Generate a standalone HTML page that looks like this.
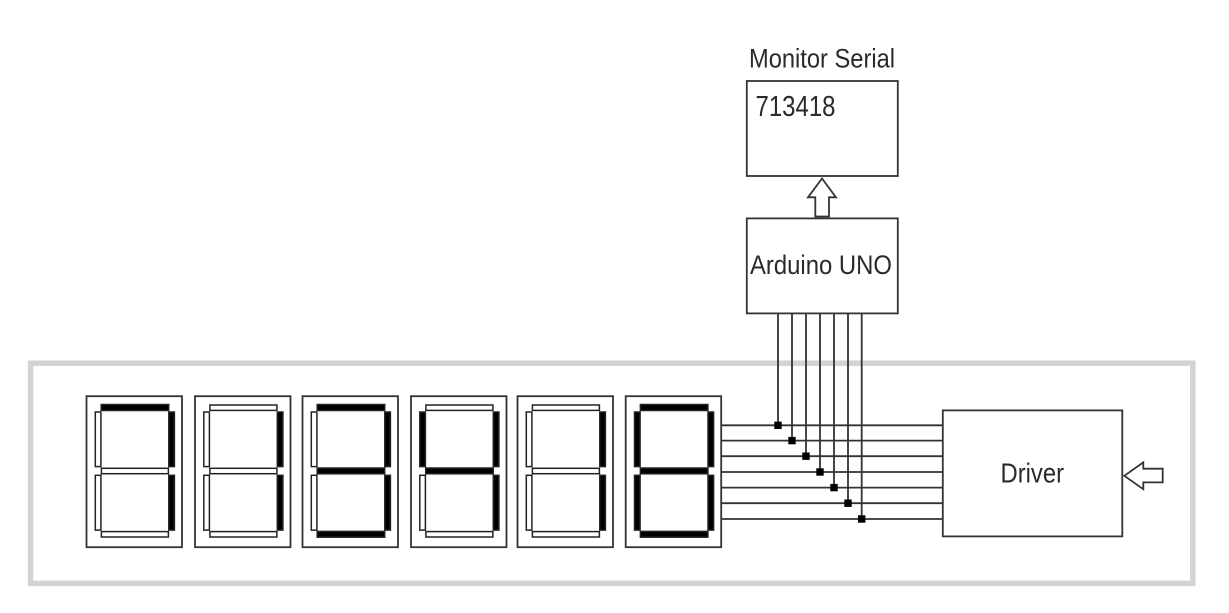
<!DOCTYPE html>
<html><head><meta charset="utf-8"><style>
html,body{margin:0;padding:0;background:#fff}
svg{display:block}
text{font-family:"Liberation Sans",sans-serif;font-size:27px;fill:#2a2a2a}
</style></head><body>
<svg id="d" xmlns="http://www.w3.org/2000/svg" width="1229" height="613" viewBox="0 0 1229 613">
<rect x="30.5" y="363.2" width="1162.3" height="220.2" fill="none" stroke="#d2d3d3" stroke-width="5.5"/>
<g fill="none" stroke="#333" stroke-width="1.8">
<rect x="86.5" y="396.2" width="95.5" height="151"/>
<rect x="195" y="396.2" width="95.5" height="151"/>
<rect x="302.5" y="396.2" width="95.5" height="151"/>
<rect x="411" y="396.2" width="95.5" height="151"/>
<rect x="517.5" y="396.2" width="95.5" height="151"/>
<rect x="625.7" y="396.2" width="95.5" height="151"/>
</g>
<g stroke="#222" stroke-width="1.5">
<g transform="translate(86.5 0)">
<rect x="14.7" y="404.5" width="67.5" height="6" fill="#000"/><rect x="8.8" y="412" width="5.6" height="54.6" fill="#fff"/><rect x="82.3" y="412" width="5.6" height="54.6" fill="#000"/><rect x="14.9" y="468.3" width="67" height="5.4" fill="#fff"/><rect x="8.8" y="475.3" width="5.6" height="54.8" fill="#fff"/><rect x="82.3" y="475.3" width="5.6" height="54.8" fill="#000"/><rect x="14.9" y="531.6" width="67" height="5.4" fill="#fff"/>
</g>
<g transform="translate(195 0)">
<rect x="14.9" y="405" width="67" height="5.4" fill="#fff"/><rect x="8.8" y="412" width="5.6" height="54.6" fill="#fff"/><rect x="82.3" y="412" width="5.6" height="54.6" fill="#000"/><rect x="14.9" y="468.3" width="67" height="5.4" fill="#fff"/><rect x="8.8" y="475.3" width="5.6" height="54.8" fill="#fff"/><rect x="82.3" y="475.3" width="5.6" height="54.8" fill="#000"/><rect x="14.9" y="531.6" width="67" height="5.4" fill="#fff"/>
</g>
<g transform="translate(302.5 0)">
<rect x="14.7" y="404.5" width="67.5" height="6" fill="#000"/><rect x="8.8" y="412" width="5.6" height="54.6" fill="#fff"/><rect x="82.3" y="412" width="5.6" height="54.6" fill="#000"/><rect x="14.7" y="468" width="67.5" height="5.8" fill="#000"/><rect x="8.8" y="475.3" width="5.6" height="54.8" fill="#fff"/><rect x="82.3" y="475.3" width="5.6" height="54.8" fill="#000"/><rect x="14.7" y="531.4" width="67.5" height="5.8" fill="#000"/>
</g>
<g transform="translate(411 0)">
<rect x="14.9" y="405" width="67" height="5.4" fill="#fff"/><rect x="8.8" y="412" width="5.6" height="54.6" fill="#000"/><rect x="82.3" y="412" width="5.6" height="54.6" fill="#000"/><rect x="14.7" y="468" width="67.5" height="5.8" fill="#000"/><rect x="8.8" y="475.3" width="5.6" height="54.8" fill="#fff"/><rect x="82.3" y="475.3" width="5.6" height="54.8" fill="#000"/><rect x="14.9" y="531.6" width="67" height="5.4" fill="#fff"/>
</g>
<g transform="translate(517.5 0)">
<rect x="14.9" y="405" width="67" height="5.4" fill="#fff"/><rect x="8.8" y="412" width="5.6" height="54.6" fill="#fff"/><rect x="82.3" y="412" width="5.6" height="54.6" fill="#000"/><rect x="14.9" y="468.3" width="67" height="5.4" fill="#fff"/><rect x="8.8" y="475.3" width="5.6" height="54.8" fill="#fff"/><rect x="82.3" y="475.3" width="5.6" height="54.8" fill="#000"/><rect x="14.9" y="531.6" width="67" height="5.4" fill="#fff"/>
</g>
<g transform="translate(625.7 0)">
<rect x="14.7" y="404.5" width="67.5" height="6" fill="#000"/><rect x="8.8" y="412" width="5.6" height="54.6" fill="#000"/><rect x="82.3" y="412" width="5.6" height="54.6" fill="#000"/><rect x="14.7" y="468" width="67.5" height="5.8" fill="#000"/><rect x="8.8" y="475.3" width="5.6" height="54.8" fill="#000"/><rect x="82.3" y="475.3" width="5.6" height="54.8" fill="#000"/><rect x="14.7" y="531.4" width="67.5" height="5.8" fill="#000"/>
</g>
</g>
<g stroke="#333" stroke-width="1.8" fill="none">
<path d="M721 425.3H943M721 440.6H943M721 456.2H943M721 472H943M721 487.6H943M721 503.2H943M721 519H943"/>
<path d="M778 314V425.3M792 314V440.6M806 314V456.2M820 314V472M834 314V487.6M848 314V503.2M861.7 314V519"/>
<rect x="942.8" y="410.4" width="179.5" height="126"/>
<rect x="746.8" y="81" width="151" height="95"/>
<rect x="746.8" y="218.4" width="151" height="95"/>
<path d="M1124.3 475.8L1143.3 462.4V468.7H1162.7V482.4H1143.3V489.2Z"/>
<path d="M822 178.5L836 197.3H829V216.5H815.3V197.3H808Z"/>
</g>
<g fill="#000">
<rect x="774.3" y="421.6" width="7.4" height="7.4"/><rect x="788.3" y="436.9" width="7.4" height="7.4"/><rect x="802.3" y="452.5" width="7.4" height="7.4"/><rect x="816.3" y="468.3" width="7.4" height="7.4"/><rect x="830.3" y="483.9" width="7.4" height="7.4"/><rect x="844.3" y="499.5" width="7.4" height="7.4"/><rect x="858" y="515.3" width="7.4" height="7.4"/>
</g>
<text x="749" y="67.7" textLength="146" lengthAdjust="spacingAndGlyphs">Monitor Serial</text>
<text x="755.5" y="116" textLength="80" lengthAdjust="spacingAndGlyphs" style="font-size:29px">713418</text>
<text x="750" y="274" textLength="142" lengthAdjust="spacingAndGlyphs">Arduino UNO</text>
<text x="1000.5" y="482.3" textLength="63.5" lengthAdjust="spacingAndGlyphs" style="font-size:28px">Driver</text>
</svg>
</body></html>
